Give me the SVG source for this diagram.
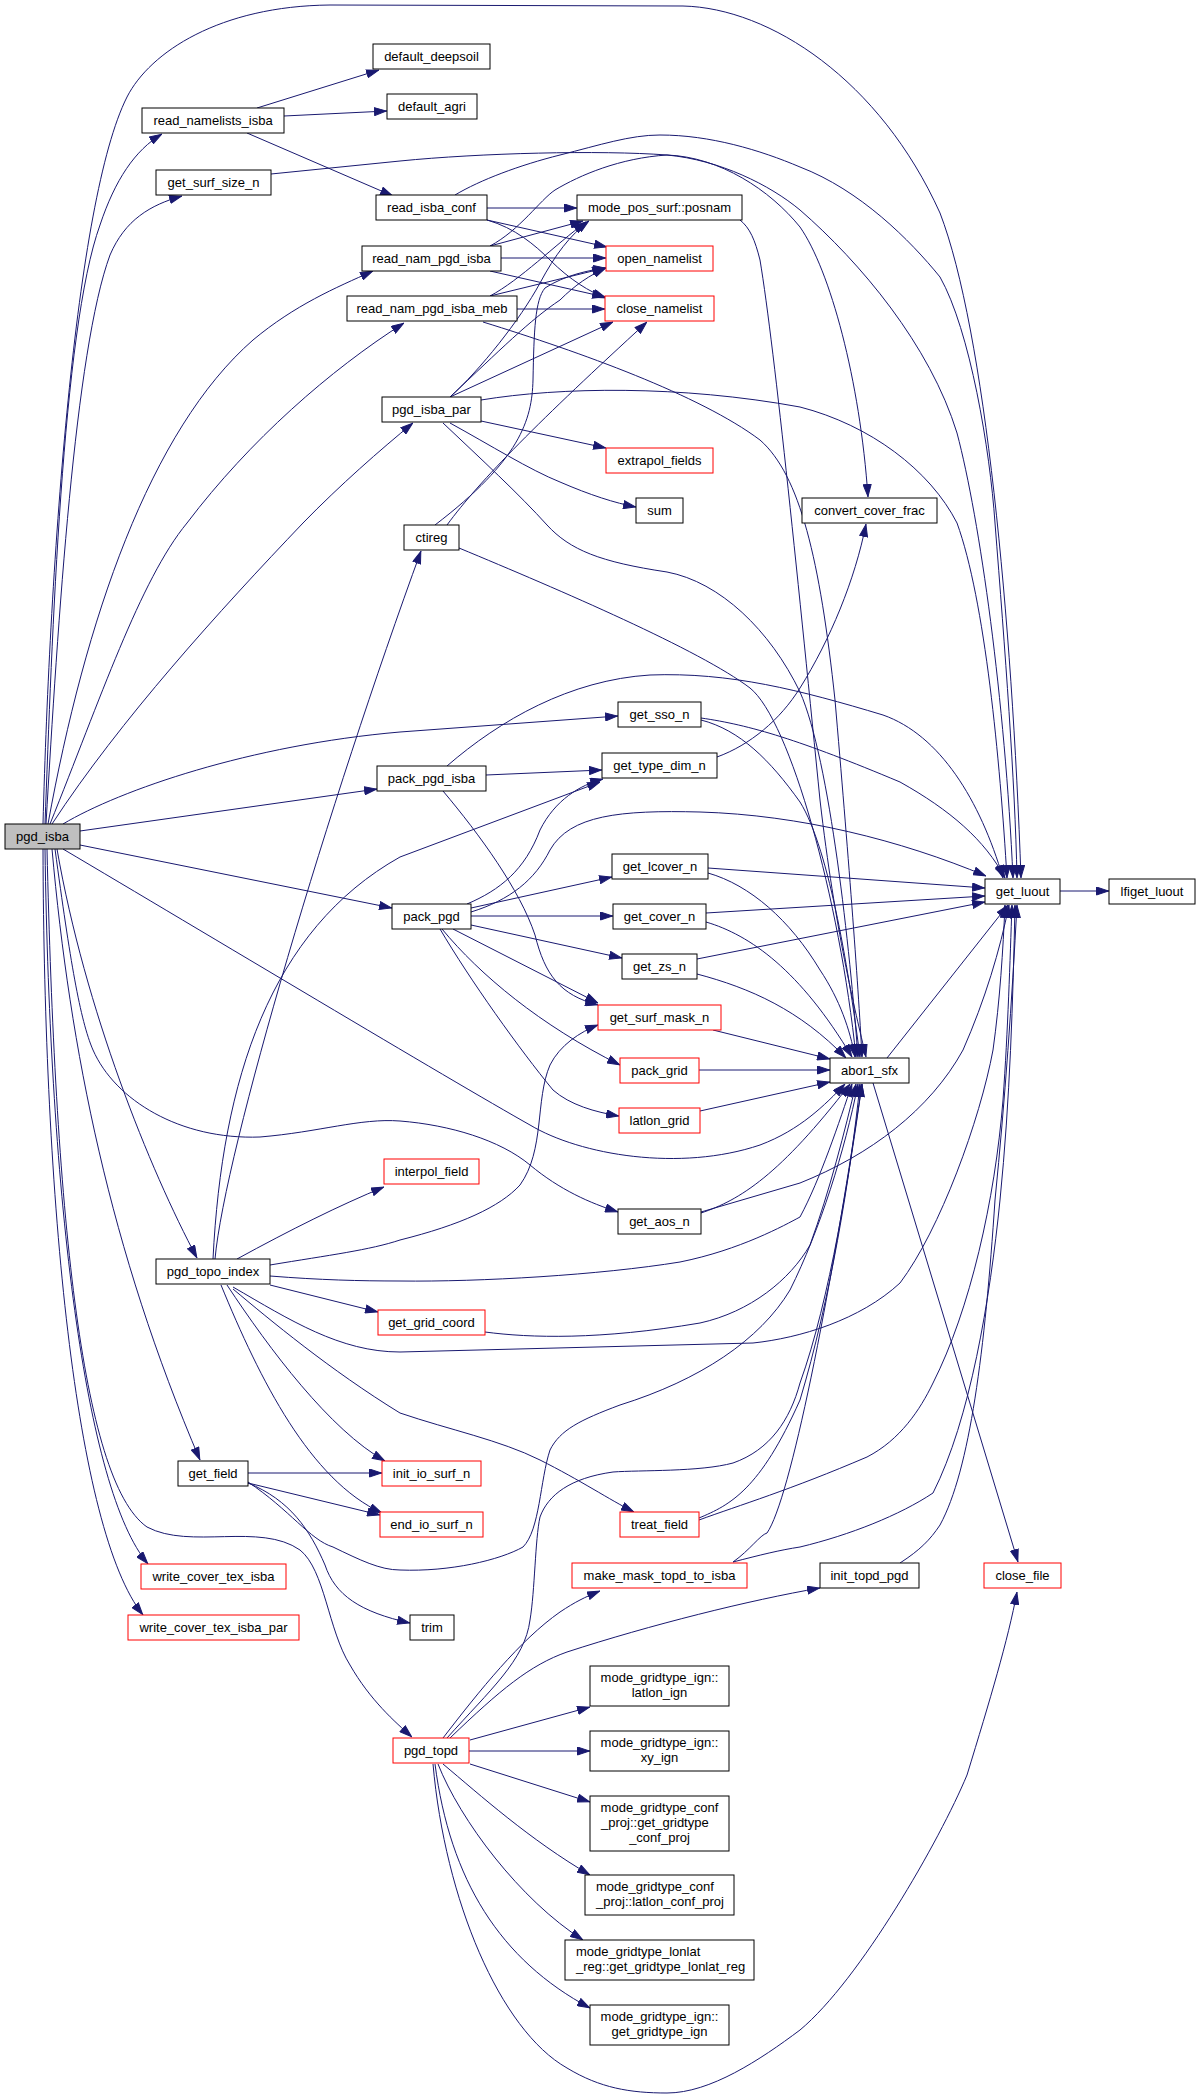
<svg xmlns="http://www.w3.org/2000/svg" width="1200" height="2099" viewBox="0 0 1200 2099">
<style>
.n rect{fill:#fff;stroke:#000;stroke-width:1}
.n.r rect{stroke:#ff0000}
.n.g rect{fill:#bfbfbf}
.n text{font-family:"Liberation Sans",Arial,sans-serif;font-size:13px;fill:#000;text-anchor:middle}
.n text.s{text-anchor:start}
.e path{fill:none;stroke:#191970;stroke-width:1;marker-end:url(#a)}
</style>
<defs>
<marker id="a" viewBox="0 0 13 9" markerWidth="13" markerHeight="9" refX="13" refY="4.5" orient="auto" markerUnits="userSpaceOnUse">
<path d="M0.5,0.5 L12.5,4.5 L0.5,8.5 Z" fill="#191970" stroke="#191970" stroke-width="1"/>
</marker>
</defs>
<rect width="1200" height="2099" fill="#fff"/>
<g class="e" id="edges">
<path d="M45,824 C52,640 62,330 100,225 C115,180 135,150 162,134"/>
<path d="M46,824 C58,620 75,350 110,255 C125,220 150,205 182,196"/>
<path d="M43,824 C50,560 75,200 127,97 C150,52 220,6 330,5 L683,6 C770,8 880,80 940,213 C985,330 1012,620 1021,878"/>
<path d="M48,824 C85,620 150,430 253,340 C295,305 335,288 373,271"/>
<path d="M50,824 C100,700 140,580 187,523 C250,440 330,370 404,323"/>
<path d="M52,824 C120,720 220,610 303,523 C340,485 380,450 413,423"/>
<path d="M257,108 L379,70"/>
<path d="M284,116 L387,111"/>
<path d="M247,133 L393,196"/>
<path d="M271,174 L400,161 C480,153 600,150 667,155 C720,160 770,185 800,210 C860,262 930,345 957,433 C980,520 1005,700 1013,878"/>
<path d="M487,208 L577,208"/>
<path d="M487,220 L607,247"/>
<path d="M487,220 C515,228 535,245 550,260 C570,280 590,292 606,298"/>
<path d="M455,195 C480,180 520,165 560,155 C600,145 630,135 660,135 C710,135 760,150 800,167 C860,190 910,240 940,277 C970,330 990,450 995,523 C1005,650 1015,780 1017,878"/>
<path d="M490,246 L583,221"/>
<path d="M501,258 L606,258"/>
<path d="M490,271 L605,297"/>
<path d="M490,246 C520,230 540,200 555,190 C580,175 620,158 667,155 C720,157 770,190 800,227 C830,270 860,380 868,497"/>
<path d="M490,296 C520,280 555,245 586,222"/>
<path d="M490,296 L605,268"/>
<path d="M517,309 L605,309"/>
<path d="M483,322 C580,352 700,395 760,440 C800,475 820,560 835,700 C848,850 858,980 862,1057"/>
<path d="M450,397 C480,370 520,320 540,283 C555,255 570,235 589,221"/>
<path d="M450,397 C500,350 530,320 560,300 C575,285 590,275 606,268"/>
<path d="M450,397 L613,322"/>
<path d="M481,400 C560,387 680,385 800,407 C870,425 930,470 957,523 C985,600 1000,760 1007,878"/>
<path d="M481,421 L606,448"/>
<path d="M450,423 C490,445 530,470 560,482 C590,495 615,503 636,507"/>
<path d="M443,423 C480,458 520,495 547,525 C570,550 600,562 667,572 C720,582 770,630 800,692 C830,760 850,950 858,1057"/>
<path d="M740,220 C750,228 755,240 760,260 C775,350 800,600 820,800 C835,930 855,1010 866,1057"/>
<path d="M447,525 C480,480 540,420 647,322"/>
<path d="M435,525 C520,460 532,420 533,380 C534,330 535,300 545,288 C565,275 590,270 606,268"/>
<path d="M459,548 C560,590 700,650 750,688 C790,720 840,900 856,1057"/>
<path d="M63,824 C120,790 250,745 400,732 L618,716"/>
<path d="M80,831 L377,789"/>
<path d="M80,845 L392,908"/>
<path d="M486,775 L602,770"/>
<path d="M447,766 C500,720 570,680 650,675 C730,672 800,690 883,715 C940,735 980,800 1003,878"/>
<path d="M443,791 C480,835 520,890 535,935 C545,975 560,995 598,1005"/>
<path d="M701,718 C750,725 800,740 900,782 C950,810 985,840 1005,878"/>
<path d="M701,720 C740,730 770,760 800,802 C830,850 850,980 860,1057"/>
<path d="M717,757 C750,745 780,720 800,688 C830,640 855,580 866,524"/>
<path d="M467,904 C500,890 525,870 540,830 C555,800 580,785 603,779"/>
<path d="M471,912 C510,900 535,880 550,850 C570,815 620,810 700,812 C800,815 900,840 986,876"/>
<path d="M471,908 L612,877"/>
<path d="M471,916 L613,916"/>
<path d="M471,925 L622,958"/>
<path d="M453,929 L598,1003"/>
<path d="M442,929 C480,975 540,1025 620,1065"/>
<path d="M440,929 C470,980 520,1050 553,1090 C570,1105 595,1112 619,1116"/>
<path d="M708,868 L985,888"/>
<path d="M708,873 C750,885 790,920 820,970 C840,1000 850,1030 855,1057"/>
<path d="M706,913 L985,896"/>
<path d="M706,922 C750,935 800,970 852,1057"/>
<path d="M697,959 L985,902"/>
<path d="M697,974 C750,988 800,1010 846,1058"/>
<path d="M713,1030 L830,1059"/>
<path d="M699,1070 L830,1070"/>
<path d="M700,1111 L830,1082"/>
<path d="M887,1058 L1008,905"/>
<path d="M873,1083 L1018,1562"/>
<path d="M1060,891 L1109,891"/>
<path d="M63,849 C200,930 450,1080 530,1125 C580,1155 680,1172 760,1145 C800,1130 825,1105 845,1084"/>
<path d="M55,849 C70,960 80,1020 93,1050 C115,1100 180,1140 260,1137 C320,1132 360,1118 400,1121 C450,1125 500,1140 530,1165 C560,1190 590,1203 618,1212"/>
<path d="M701,1213 C740,1200 780,1175 850,1084"/>
<path d="M701,1212 L800,1183 C870,1155 930,1110 963,1050 C985,1000 1000,950 1009,905"/>
<path d="M57,849 C85,1010 150,1170 197,1258"/>
<path d="M215,1259 C225,1150 330,800 421,551"/>
<path d="M213,1259 C222,1080 270,930 400,857 L600,782"/>
<path d="M237,1259 C290,1230 340,1205 384,1187"/>
<path d="M270,1265 C330,1255 370,1250 400,1240 C460,1225 500,1207 520,1185 C545,1150 535,1100 550,1065 C560,1045 580,1032 598,1025"/>
<path d="M270,1276 C320,1280 360,1281 400,1281 C480,1282 600,1275 680,1262 C740,1250 785,1225 800,1217 C820,1180 840,1120 852,1084"/>
<path d="M233,1287 C290,1320 340,1352 400,1352 L753,1343 C800,1338 860,1320 900,1283 C940,1230 980,1120 993,1050 C1000,1000 1003,950 1005,905"/>
<path d="M270,1285 L378,1312"/>
<path d="M485,1332 C530,1338 600,1340 700,1323 C750,1312 790,1280 810,1245 C830,1190 845,1130 856,1084"/>
<path d="M227,1285 C270,1350 330,1430 385,1461"/>
<path d="M221,1285 C260,1380 310,1480 382,1513"/>
<path d="M233,1289 C270,1320 330,1370 400,1413 C450,1430 500,1440 540,1460 C580,1480 610,1500 634,1512"/>
<path d="M248,1473 L382,1473"/>
<path d="M248,1483 L380,1515"/>
<path d="M248,1483 C290,1500 310,1530 325,1565 C335,1595 360,1612 410,1623"/>
<path d="M248,1482 C290,1510 310,1540 333,1547 C360,1560 380,1570 400,1570 C450,1572 500,1560 523,1547 C540,1530 540,1480 550,1450 C560,1430 580,1420 620,1405 C700,1380 760,1340 790,1290 C820,1230 845,1150 858,1084"/>
<path d="M699,1518 C730,1505 760,1490 800,1400 C830,1300 850,1180 860,1084"/>
<path d="M699,1520 C740,1505 790,1490 867,1457 C900,1440 920,1410 933,1383 C970,1310 995,1200 1003,1100 C1008,1030 1010,960 1012,905"/>
<path d="M733,1562 C750,1550 760,1535 767,1533 C790,1500 830,1300 862,1084"/>
<path d="M733,1562 C760,1555 780,1550 800,1547 C850,1535 900,1515 933,1493 C970,1420 990,1300 1000,1200 C1010,1100 1013,1000 1015,905"/>
<path d="M900,1563 C920,1550 930,1540 940,1525 C970,1470 985,1350 995,1200 C1005,1100 1012,1000 1017,905"/>
<path d="M443,1738 C480,1690 520,1640 560,1612 C575,1602 585,1597 600,1591"/>
<path d="M447,1738 C490,1690 525,1660 530,1620 C535,1590 535,1540 540,1517 C548,1495 570,1478 613,1472 C640,1470 700,1472 733,1463 C770,1450 790,1420 800,1383 C830,1300 850,1170 862,1084"/>
<path d="M450,1738 C500,1690 530,1665 567,1652 C650,1625 750,1600 820,1588"/>
<path d="M470,1740 L590,1707"/>
<path d="M469,1751 L590,1751"/>
<path d="M470,1764 L590,1802"/>
<path d="M443,1764 C480,1795 530,1840 590,1875"/>
<path d="M438,1764 C460,1820 520,1900 583,1940"/>
<path d="M435,1764 C450,1880 500,1960 590,2008"/>
<path d="M433,1764 C445,1900 500,2030 567,2068 C600,2088 630,2093 667,2093 C710,2093 760,2060 800,2030 C860,1980 940,1840 967,1775 C990,1700 1008,1640 1017,1592"/>
<path d="M52,849 C70,1050 110,1250 200,1460"/>
<path d="M45,849 C50,1200 85,1490 148,1564"/>
<path d="M43,849 C44,1200 75,1530 143,1615"/>
<path d="M47,849 C55,1200 80,1480 147,1527 C190,1550 260,1522 300,1550 C325,1570 328,1630 350,1665 C370,1700 395,1722 412,1737"/>
</g>
<g class="n g" id="pgd_isba"><rect x="5" y="824" width="75" height="25"/><text x="42.5" y="841">pgd_isba</text></g>
<g class="n" id="read_namelists_isba"><rect x="142" y="108" width="142" height="25"/><text x="213" y="125">read_namelists_isba</text></g>
<g class="n" id="get_surf_size_n"><rect x="156" y="170" width="115" height="25"/><text x="213.5" y="187">get_surf_size_n</text></g>
<g class="n" id="default_deepsoil"><rect x="373" y="44" width="117" height="25"/><text x="431.5" y="61">default_deepsoil</text></g>
<g class="n" id="default_agri"><rect x="387" y="94" width="90" height="25"/><text x="432" y="111">default_agri</text></g>
<g class="n" id="read_isba_conf"><rect x="376" y="195" width="111" height="25"/><text x="431.5" y="212">read_isba_conf</text></g>
<g class="n" id="read_nam_pgd_isba"><rect x="362" y="246" width="139" height="25"/><text x="431.5" y="263">read_nam_pgd_isba</text></g>
<g class="n" id="read_nam_pgd_isba_meb"><rect x="347" y="296" width="170" height="25"/><text x="432" y="313">read_nam_pgd_isba_meb</text></g>
<g class="n" id="pgd_isba_par"><rect x="382" y="397" width="99" height="25"/><text x="431.5" y="414">pgd_isba_par</text></g>
<g class="n" id="posnam"><rect x="577" y="195" width="165" height="25"/><text x="659.5" y="212">mode_pos_surf::posnam</text></g>
<g class="n r" id="open_namelist"><rect x="606" y="246" width="107" height="25"/><text x="659.5" y="263">open_namelist</text></g>
<g class="n r" id="close_namelist"><rect x="605" y="296" width="109" height="25"/><text x="659.5" y="313">close_namelist</text></g>
<g class="n r" id="extrapol_fields"><rect x="606" y="448" width="107" height="25"/><text x="659.5" y="465">extrapol_fields</text></g>
<g class="n" id="sum"><rect x="636" y="498" width="47" height="25"/><text x="659.5" y="515">sum</text></g>
<g class="n" id="convert_cover_frac"><rect x="802" y="498" width="135" height="25"/><text x="869.5" y="515">convert_cover_frac</text></g>
<g class="n" id="ctireg"><rect x="404" y="525" width="55" height="25"/><text x="431.5" y="542">ctireg</text></g>
<g class="n" id="get_sso_n"><rect x="618" y="702" width="83" height="25"/><text x="659.5" y="719">get_sso_n</text></g>
<g class="n" id="get_type_dim_n"><rect x="602" y="753" width="115" height="25"/><text x="659.5" y="770">get_type_dim_n</text></g>
<g class="n" id="pack_pgd_isba"><rect x="377" y="766" width="109" height="25"/><text x="431.5" y="783">pack_pgd_isba</text></g>
<g class="n" id="get_lcover_n"><rect x="612" y="854" width="96" height="25"/><text x="660" y="871">get_lcover_n</text></g>
<g class="n" id="pack_pgd"><rect x="392" y="904" width="79" height="25"/><text x="431.5" y="921">pack_pgd</text></g>
<g class="n" id="get_cover_n"><rect x="613" y="904" width="93" height="25"/><text x="659.5" y="921">get_cover_n</text></g>
<g class="n" id="get_zs_n"><rect x="622" y="954" width="75" height="25"/><text x="659.5" y="971">get_zs_n</text></g>
<g class="n r" id="get_surf_mask_n"><rect x="598" y="1005" width="123" height="25"/><text x="659.5" y="1022">get_surf_mask_n</text></g>
<g class="n" id="get_luout"><rect x="985" y="879" width="75" height="25"/><text x="1022.5" y="896">get_luout</text></g>
<g class="n" id="lfiget_luout"><rect x="1109" y="879" width="86" height="25"/><text x="1152" y="896">lfiget_luout</text></g>
<g class="n r" id="pack_grid"><rect x="620" y="1058" width="79" height="25"/><text x="659.5" y="1075">pack_grid</text></g>
<g class="n r" id="latlon_grid"><rect x="619" y="1108" width="81" height="25"/><text x="659.5" y="1125">latlon_grid</text></g>
<g class="n" id="abor1_sfx"><rect x="830" y="1058" width="79" height="25"/><text x="869.5" y="1075">abor1_sfx</text></g>
<g class="n r" id="interpol_field"><rect x="384" y="1159" width="95" height="25"/><text x="431.5" y="1176">interpol_field</text></g>
<g class="n" id="get_aos_n"><rect x="618" y="1209" width="83" height="25"/><text x="659.5" y="1226">get_aos_n</text></g>
<g class="n" id="pgd_topo_index"><rect x="156" y="1259" width="114" height="25"/><text x="213" y="1276">pgd_topo_index</text></g>
<g class="n r" id="get_grid_coord"><rect x="378" y="1310" width="107" height="25"/><text x="431.5" y="1327">get_grid_coord</text></g>
<g class="n" id="get_field"><rect x="178" y="1461" width="70" height="25"/><text x="213" y="1478">get_field</text></g>
<g class="n r" id="init_io_surf_n"><rect x="382" y="1461" width="99" height="25"/><text x="431.5" y="1478">init_io_surf_n</text></g>
<g class="n r" id="end_io_surf_n"><rect x="380" y="1512" width="103" height="25"/><text x="431.5" y="1529">end_io_surf_n</text></g>
<g class="n r" id="treat_field"><rect x="620" y="1512" width="79" height="25"/><text x="659.5" y="1529">treat_field</text></g>
<g class="n r" id="write_cover_tex_isba"><rect x="141" y="1564" width="145" height="25"/><text x="213.5" y="1581">write_cover_tex_isba</text></g>
<g class="n r" id="make_mask_topd_to_isba"><rect x="572" y="1563" width="175" height="25"/><text x="659.5" y="1580">make_mask_topd_to_isba</text></g>
<g class="n" id="init_topd_pgd"><rect x="820" y="1563" width="99" height="25"/><text x="869.5" y="1580">init_topd_pgd</text></g>
<g class="n r" id="close_file"><rect x="984" y="1563" width="77" height="25"/><text x="1022.5" y="1580">close_file</text></g>
<g class="n r" id="write_cover_tex_isba_par"><rect x="128" y="1615" width="171" height="25"/><text x="213.5" y="1632">write_cover_tex_isba_par</text></g>
<g class="n" id="trim"><rect x="410" y="1615" width="44" height="25"/><text x="432" y="1632">trim</text></g>
<g class="n r" id="pgd_topd"><rect x="393" y="1738" width="76" height="25"/><text x="431" y="1755">pgd_topd</text></g>
<g class="n" id="latlon_ign"><rect x="590" y="1666" width="139" height="40"/><text x="659.5" y="1682">mode_gridtype_ign::</text><text x="659.5" y="1697">latlon_ign</text></g>
<g class="n" id="xy_ign"><rect x="590" y="1731" width="139" height="40"/><text x="659.5" y="1747">mode_gridtype_ign::</text><text x="659.5" y="1762">xy_ign</text></g>
<g class="n" id="get_gridtype_conf_proj"><rect x="590" y="1796" width="139" height="55"/><text x="659.5" y="1812">mode_gridtype_conf</text><text class="s" x="601" y="1827">_proj::get_gridtype</text><text x="659.5" y="1842">_conf_proj</text></g>
<g class="n" id="latlon_conf_proj"><rect x="585" y="1875" width="149" height="40"/><text class="s" x="596" y="1891">mode_gridtype_conf</text><text class="s" x="596" y="1906">_proj::latlon_conf_proj</text></g>
<g class="n" id="get_gridtype_lonlat_reg"><rect x="565" y="1940" width="189" height="40"/><text class="s" x="576" y="1956">mode_gridtype_lonlat</text><text class="s" x="576" y="1971">_reg::get_gridtype_lonlat_reg</text></g>
<g class="n" id="get_gridtype_ign"><rect x="590" y="2005" width="139" height="40"/><text x="659.5" y="2021">mode_gridtype_ign::</text><text x="659.5" y="2036">get_gridtype_ign</text></g>
</svg>
